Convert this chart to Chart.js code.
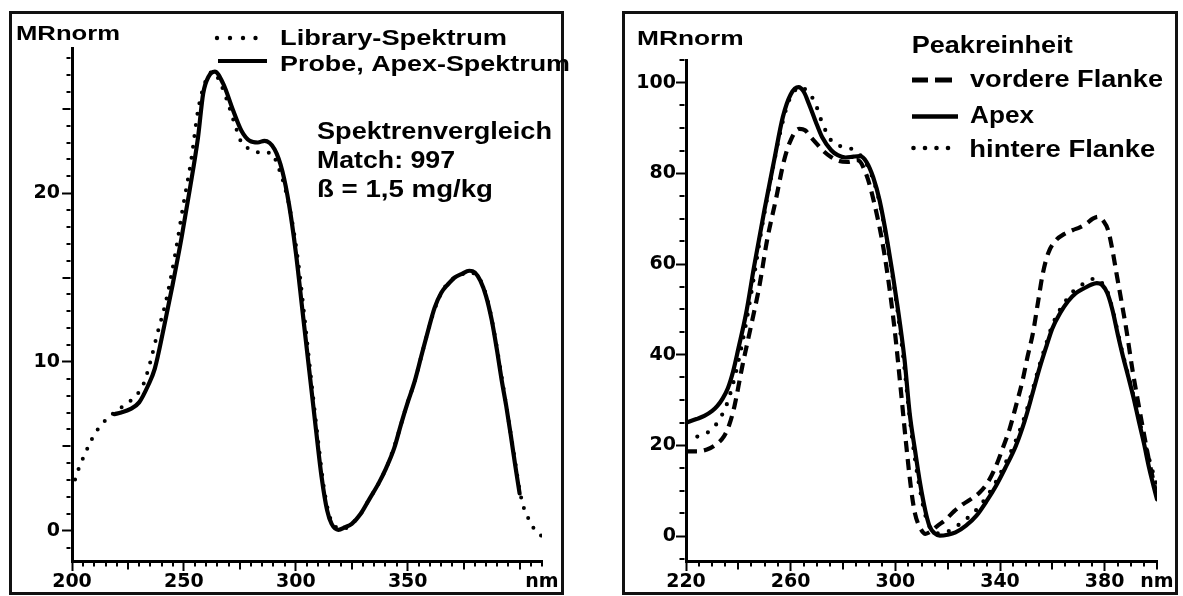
<!DOCTYPE html>
<html>
<head>
<meta charset="utf-8">
<script src="https://cdn.jsdelivr.net/npm/chart.js@4.4.1/dist/chart.umd.min.js"></script>
<style>
  html, body { margin: 0; padding: 0; background: #fff; }
  body { width: 1183px; height: 596px; position: relative; overflow: hidden; }
  .frame { position: absolute; border: 3px solid #111; box-sizing: border-box; }
  canvas { position: absolute; top: 0; }
</style>
</head>
<body>
<div class="frame" style="left:9px;top:11px;width:555px;height:584px"></div>
<div class="frame" style="left:622px;top:11px;width:556px;height:584px"></div>
<canvas id="spectrumLeft" width="600" height="596" style="left:0"></canvas>
<canvas id="spectrumRight" width="583" height="596" style="left:600px"></canvas>
<script>
// ---- Spektrenvergleich (left panel) ----
const libraryNm = [200, 202, 204, 206, 208, 211, 214, 217, 220, 224, 228, 232, 235, 238, 242, 246, 249.6, 253.3, 256.3, 259.3,
  263, 266, 269, 272.7, 275.7, 280, 284.6, 289, 292, 295, 298, 301, 304, 307, 310, 312.5, 315, 318, 321, 325,
  329, 333, 337, 341, 345, 349, 353, 357, 361, 365, 369, 373, 377, 380, 383, 386, 389, 392, 395, 398,
  400, 402, 404, 406, 408, 409.6];
const libraryMR = [2.4, 3.3, 4.0, 4.6, 5.2, 5.9, 6.4, 6.8, 7.1, 7.5, 7.9, 8.7, 10.0, 11.6, 13.6, 16.3, 19.2, 22.0, 24.9, 26.5,
  27.2, 26.6, 25.6, 24.1, 23.0, 22.6, 22.4, 22.4, 21.6, 20.4, 18.6, 16.0, 12.5, 8.8, 5.3, 2.6, 0.9, 0.2, 0.1, 0.4,
  1.0, 1.9, 2.8, 3.9, 5.4, 7.2, 8.8, 10.8, 12.7, 14.1, 14.8, 15.1, 15.3, 15.2, 14.7, 13.5, 11.5, 9.1, 6.6, 4.1,
  2.4, 1.3, 0.7, 0.2, -0.1, -0.3];

const probeNm = [219, 222, 226, 230, 234, 237, 241, 245, 249, 252.6, 256.3, 258.6, 261, 263.8, 267.5, 272, 275.7, 279.4, 283, 286,
  290.5, 294, 297, 300, 303, 306, 309, 311.5, 314, 316, 319, 322, 325, 329, 333, 337, 340, 344, 347, 350,
  353, 356, 359, 362, 365, 368, 371, 374, 377.5, 380, 382.5, 385, 387.5, 390, 392, 394, 396, 398, 400];
const probeMR = [6.9, 7.0, 7.2, 7.6, 8.6, 9.6, 12.0, 14.6, 17.4, 20.2, 23.3, 25.9, 26.9, 27.2, 26.5, 24.9, 23.7, 23.1, 23.0, 23.1,
  22.6, 21.3, 19.3, 16.5, 13.0, 9.5, 6.0, 3.2, 1.2, 0.4, 0.05, 0.2, 0.4, 1.0, 1.9, 2.8, 3.6, 4.9, 6.3, 7.6,
  8.8, 10.3, 11.8, 13.2, 14.1, 14.6, 15.0, 15.2, 15.4, 15.3, 14.8, 13.9, 12.5, 10.6, 8.9, 7.4, 5.7, 3.9, 2.2];

const leftXTicks = [200, 250, 300, 350, 410];
const leftYTicks = [0, 10, 20];

// ---- Peakreinheit (right panel) ----
const frontNm = [220, 224, 228, 231, 234.5, 236.5, 238.5, 241.5, 244.8, 248, 251, 254.3, 257.5, 260, 263.3, 265.5, 267.7, 270, 272.2, 275.4,
  278.5, 281.7, 285.6, 288.8, 292, 295.8, 299.6, 302.2, 304, 306, 307.5, 309.5, 311.5, 313.5, 316, 319.4, 322.5, 325.8, 329, 332.2,
  335.5, 338.5, 341, 343.6, 346, 348.7, 350.5, 352.6, 354.5, 356.4, 358.5, 361.5, 364.5, 367.9, 370.5, 373, 375.5, 377.5, 379.5, 381.3,
  383, 384.5, 386.5, 388.3, 390.8, 392.8, 394.7, 397, 399.5];
const frontMR = [18.7, 18.7, 19.1, 20.0, 22.0, 24.5, 28.6, 37.4, 46.2, 55.0, 65.3, 74.1, 82.9, 87.3, 89.8, 89.5, 88.0, 86.5, 85.1, 83.6,
  82.7, 82.5, 82.9, 79.9, 73.3, 62.3, 46.2, 31.6, 21.0, 10.5, 5.0, 1.8, 0.5, 1.0, 2.2, 3.7, 5.5, 7.0, 8.2, 9.6,
  12.0, 15.5, 19.3, 23.5, 28.5, 34.5, 39.5, 44.8, 51.5, 58.0, 62.5, 65.3, 66.6, 67.5, 68.1, 68.9, 70.0, 70.4, 69.5, 67.5,
  63.0, 58.0, 51.5, 45.5, 36.0, 29.5, 23.5, 16.5, 10.0];

const apexNm = [220, 224, 227, 230, 232, 234, 236, 238, 240, 243, 246, 250, 253.7, 257, 260, 263, 265, 267, 269.5, 272,
  275.5, 278, 281, 284, 286.5, 289, 291.5, 294, 297, 301, 303.5, 305.5, 307.5, 309.5, 311.5, 313, 315, 317, 320, 323,
  327, 331, 335, 338.5, 342, 346, 349.5, 352.5, 355, 357.7, 360, 363, 366, 369, 372, 375, 377, 379, 381, 383,
  385, 387, 389, 391, 393, 395, 397, 400];
const apexMR = [25.0, 25.8, 26.5, 27.6, 28.7, 30.3, 32.6, 36.3, 41.3, 49.2, 59.4, 72.0, 82.9, 92.4, 97.4, 99.0, 98.0, 95.3, 91.5, 88.0,
  85.1, 84.0, 83.5, 83.7, 83.8, 82.5, 79.2, 74.0, 64.8, 50.0, 39.0, 27.0, 19.0, 11.5, 5.5, 2.3, 0.6, 0.1, 0.3, 0.8,
  2.3, 4.5, 7.8, 11.1, 15.0, 19.8, 25.5, 31.6, 36.8, 41.8, 45.8, 49.2, 51.8, 53.6, 54.6, 55.5, 55.8, 55.4, 53.6, 49.8,
  44.5, 39.6, 35.2, 30.6, 25.5, 20.5, 15.0, 8.1];

const rearNm = [220, 223, 226.9, 229.5, 232, 234, 235.8, 237.7, 239.6, 242.5, 245.5, 249, 252.5, 256, 259, 262, 264.5, 266.5, 269, 272.2,
  275.4, 278, 280.5, 284.3, 288.1, 291, 294, 297.5, 301, 303.5, 305.5, 307.5, 309.5, 311.5, 313.5, 315.5, 318, 321, 324, 327,
  331, 334.7, 338.5, 342, 346, 349.5, 352.5, 355, 357.7, 360, 363, 366, 368, 371, 374.3, 377, 379, 381, 383, 385,
  387, 389, 391, 393, 395, 397, 400];
const rearMR = [21.5, 21.8, 22.4, 23.4, 25.0, 27.0, 29.4, 33.0, 37.4, 45.5, 55.5, 68.0, 79.0, 89.0, 95.5, 98.5, 99.0, 97.8, 96.0, 90.9,
  87.3, 86.2, 85.8, 85.1, 82.9, 79.5, 73.5, 62.5, 49.0, 37.0, 26.0, 17.0, 10.0, 4.5, 1.6, 0.6, 0.6, 1.3, 2.4, 3.7,
  5.8, 8.5, 12.0, 16.0, 21.0, 26.5, 32.3, 37.5, 42.5, 46.5, 50.0, 52.6, 54.0, 55.3, 56.5, 56.8, 55.8, 54.0, 50.0, 45.0,
  40.0, 35.5, 31.0, 26.0, 21.5, 17.0, 11.0];

const rightXTicks = [220, 260, 300, 340, 380, 400];
const rightYTicks = [0, 20, 40, 60, 80, 100];

const unitLabel = 'nm';
const yTitle = 'MRnorm';

// ---- helpers ----
const pts = (xs, ys) => xs.map((x, i) => ({ x, y: ys[i] }));
const TICK_FONT = { family: '"DejaVu Sans", sans-serif', size: 19, weight: 'bold' };
const TEXT_FAMILY = '"Liberation Sans", Arial, sans-serif';

// small intermediate ticks between the labelled ones
const minorTicks = {
  id: 'minorTicks',
  afterDraw(chart, args, opts) {
    const ctx = chart.ctx;
    ctx.save();
    ctx.strokeStyle = '#000';
    ctx.lineWidth = 2;
    for (const ax of opts.axes || []) {
      const scale = chart.scales[ax.id];
      const start = Math.ceil(scale.min / ax.step - 1e-9) * ax.step;
      for (let v = start; v <= scale.max + 1e-9; v += ax.step) {
        const val = Math.round(v * 1000) / 1000;
        if (ax.skip.includes(val)) continue;
        const isMid = ax.mid && Math.abs(val / ax.mid - Math.round(val / ax.mid)) < 1e-6;
        const len = isMid ? ax.midLen : ax.len;
        const p = Math.round(scale.getPixelForValue(val)) + 0.0;
        ctx.beginPath();
        if (scale.isHorizontal()) {
          const y0 = scale.top + 1.5;
          ctx.moveTo(p, y0);
          ctx.lineTo(p, y0 + len);
        } else {
          const x0 = scale.right - 1.5;
          ctx.moveTo(x0, p);
          ctx.lineTo(x0 - len, p);
        }
        ctx.stroke();
      }
    }
    ctx.restore();
  }
};

// axis title, legend entries and remarks written on the panel
const panelText = {
  id: 'panelText',
  afterDraw(chart, args, opts) {
    const ctx = chart.ctx;
    ctx.save();
    ctx.fillStyle = '#000';
    ctx.strokeStyle = '#000';
    ctx.textBaseline = 'alphabetic';
    for (const t of opts.items || []) {
      ctx.font = `bold ${t.size}px ${TEXT_FAMILY}`;
      const w = ctx.measureText(t.text).width;
      const sx = t.w ? t.w / w : 1;
      ctx.save();
      ctx.translate(t.x, t.y);
      ctx.scale(sx, 1);
      ctx.fillText(t.text, 0, 0);
      ctx.restore();
    }
    for (const s of opts.samples || []) {
      if (s.kind === 'dots') {
        for (const x of s.xs) {
          ctx.beginPath();
          ctx.arc(x, s.y, s.r, 0, Math.PI * 2);
          ctx.fill();
        }
      } else {
        ctx.beginPath();
        ctx.lineWidth = s.width;
        ctx.lineCap = 'butt';
        ctx.setLineDash(s.dash || []);
        ctx.moveTo(s.x0, s.y);
        ctx.lineTo(s.x1, s.y);
        ctx.stroke();
        ctx.setLineDash([]);
      }
    }
    ctx.restore();
  }
};

function axis(pos, min, max, ticks, fitSize, tickPad) {
  return {
    type: 'linear',
    position: pos,
    min, max,
    afterBuildTicks: s => { s.ticks = ticks.map(v => ({ value: v })); },
    afterFit: s => { if (pos === 'bottom') s.height = fitSize; else s.width = fitSize; },
    border: { display: true, color: '#000', width: 3 },
    grid: {
      drawOnChartArea: false,
      drawTicks: true,
      tickLength: 10,
      tickWidth: 2,
      tickColor: c => (c.tick && c.tick.value === max && pos === 'bottom') ? 'rgba(0,0,0,0)' : '#000'
    },
    ticks: {
      autoSkip: false,
      maxRotation: 0,
      padding: tickPad,
      color: '#000',
      font: TICK_FONT,
      callback: v => (pos === 'bottom' && v === max) ? unitLabel : String(v)
    }
  };
}

function line(label, xs, ys, style) {
  return Object.assign({
    label,
    data: pts(xs, ys),
    borderColor: '#000',
    backgroundColor: '#000',
    pointRadius: 0,
    fill: false,
    cubicInterpolationMode: 'monotone'
  }, style);
}

const common = {
  responsive: false,
  devicePixelRatio: 1,
  animation: false,
  events: [],
  plugins: { legend: { display: false }, tooltip: { enabled: false } }
};

new Chart(document.getElementById('spectrumLeft'), {
  type: 'line',
  data: {
    datasets: [
      line('Library-Spektrum', libraryNm, libraryMR, { borderWidth: 4, borderDash: [0, 11], borderCapStyle: 'round' }),
      line('Probe, Apex-Spektrum', probeNm, probeMR, { borderWidth: 4.2, borderCapStyle: 'round', borderJoinStyle: 'round' })
    ]
  },
  options: Object.assign({}, common, {
    layout: { padding: { left: 0, top: 48, right: 58, bottom: 0 } },
    scales: {
      x: axis('bottom', 200, 410, leftXTicks, 35, 0),
      y: axis('left', -1.8, 28.6, leftYTicks, 72, 2)
    },
    plugins: Object.assign({}, common.plugins, {
      minorTicks: { axes: [
        { id: 'x', step: 5, mid: 25, len: 4, midLen: 7, skip: [200, 250, 300, 350] },
        { id: 'y', step: 1, mid: 5, len: 4, midLen: 8, skip: [0, 10, 20] }
      ] },
      panelText: {
        items: [
          { text: yTitle, x: 16, y: 39.5, size: 20.5, w: 104 },
          { text: 'Library-Spektrum', x: 280, y: 45, size: 22, w: 227 },
          { text: 'Probe, Apex-Spektrum', x: 280, y: 70.7, size: 22, w: 290 },
          { text: 'Spektrenvergleich', x: 317, y: 139.3, size: 23, w: 235 },
          { text: 'Match: 997', x: 317, y: 168.3, size: 23, w: 138 },
          { text: 'ß = 1,5 mg/kg', x: 317, y: 196.5, size: 23, w: 176 }
        ],
        samples: [
          { kind: 'dots', xs: [217, 230, 243, 255.5], y: 38, r: 2.2 },
          { kind: 'line', x0: 218, x1: 267, y: 61, width: 4 }
        ]
      }
    })
  }),
  plugins: [minorTicks, panelText]
});

new Chart(document.getElementById('spectrumRight'), {
  type: 'line',
  data: {
    datasets: [
      line('hintere Flanke', rearNm, rearMR, { borderWidth: 4.2, borderDash: [0, 11.5], borderCapStyle: 'round' }),
      line('vordere Flanke', frontNm, frontMR, { borderWidth: 4.2, borderDash: [11, 7], borderCapStyle: 'butt' }),
      line('Apex', apexNm, apexMR, { borderWidth: 4.2, borderCapStyle: 'round', borderJoinStyle: 'round' })
    ]
  },
  options: Object.assign({}, common, {
    layout: { padding: { left: 0, top: 60, right: 26, bottom: 0 } },
    scales: {
      x: axis('bottom', 220, 400, rightXTicks, 35, 0),
      y: axis('left', -5.5, 105, rightYTicks, 86, 0)
    },
    plugins: Object.assign({}, common.plugins, {
      minorTicks: { axes: [
        { id: 'x', step: 5, mid: 20, len: 4, midLen: 7, skip: [220, 260, 300, 340, 380] },
        { id: 'y', step: 5, mid: 0, len: 5, midLen: 5, skip: [0, 20, 40, 60, 80, 100] }
      ] },
      panelText: {
        items: [
          { text: yTitle, x: 37, y: 45, size: 21, w: 106.7 },
          { text: 'Peakreinheit', x: 311.7, y: 53.3, size: 23, w: 161 },
          { text: 'vordere Flanke', x: 370, y: 87.3, size: 23, w: 193 },
          { text: 'Apex', x: 370, y: 123.3, size: 23, w: 64 },
          { text: 'hintere Flanke', x: 369.3, y: 156.7, size: 23, w: 186 }
        ],
        samples: [
          { kind: 'line', x0: 312, x1: 328, y: 80, width: 5 },
          { kind: 'line', x0: 335, x1: 352, y: 80, width: 5 },
          { kind: 'line', x0: 312, x1: 358, y: 116.5, width: 4.5 },
          { kind: 'dots', xs: [313.5, 325, 336.5, 348], y: 148, r: 2.3 }
        ]
      }
    })
  }),
  plugins: [minorTicks, panelText]
});
</script>
</body>
</html>
